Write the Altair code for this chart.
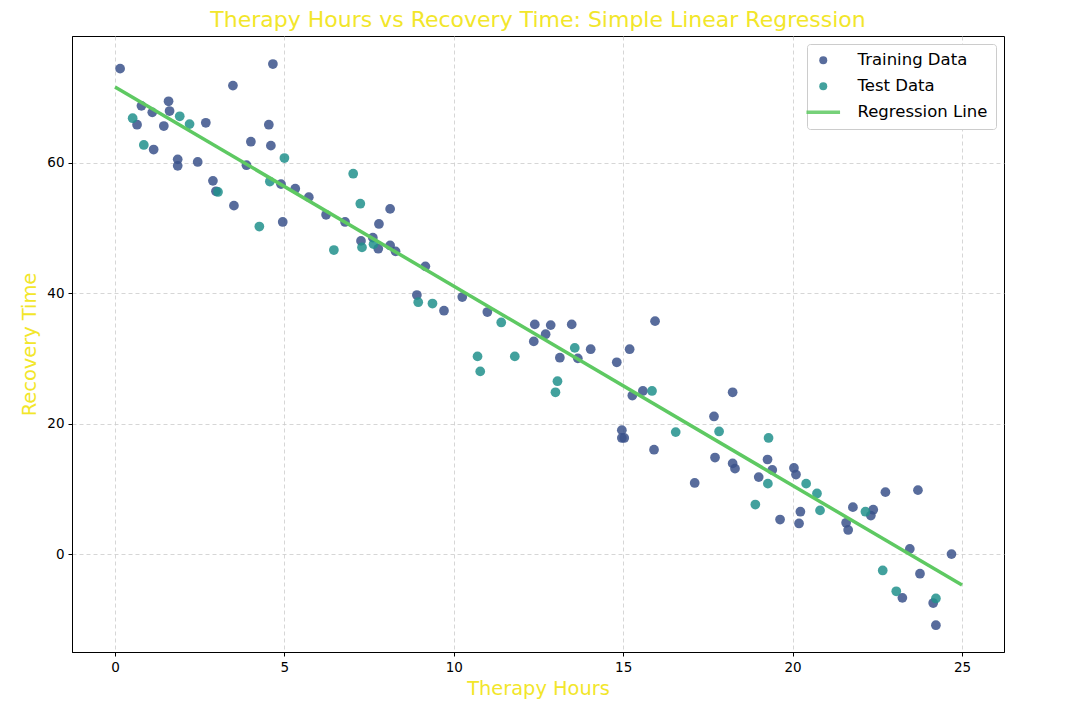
import altair as alt
import pandas as pd

train_x = [0.15, 0.65, 0.78, 1.10, 1.14, 1.44, 1.58, 1.61, 1.85, 1.85, 2.44, 2.68, 2.89, 2.98,
           3.48, 3.51, 3.88, 4.01, 4.54, 4.60, 4.66, 4.90, 4.95, 5.32, 5.72, 6.23, 6.79, 7.26,
           7.61, 7.77, 7.79, 8.12, 8.12, 8.28, 8.91, 9.16, 9.71, 10.25, 10.99, 12.36, 12.39,
           12.71, 12.86, 13.13, 13.48, 13.66, 14.04, 14.81, 14.96, 14.96, 15.03, 15.19, 15.27,
           15.58, 15.91, 15.94, 17.11, 17.68, 17.71, 18.23, 18.23, 18.30, 19.00, 19.26, 19.40,
           19.63, 20.04, 20.10, 20.19, 20.23, 21.58, 21.64, 21.78, 22.31, 22.38, 22.74, 23.24,
           23.46, 23.70, 23.76, 24.15, 24.23, 24.69]
train_y = [74.4, 65.8, 68.7, 67.7, 62.0, 65.6, 69.4, 67.9, 60.5, 59.5, 60.1, 66.1, 57.2, 55.6,
           71.8, 53.4, 59.6, 63.2, 65.8, 62.6, 75.1, 56.7, 50.9, 56.0, 54.7, 52.0, 50.9, 48.0,
           48.5, 46.8, 50.6, 52.9, 47.3, 46.4, 39.7, 44.1, 37.3, 39.4, 37.1, 32.6, 35.2,
           33.7, 35.1, 30.1, 35.2, 30.0, 31.4, 29.4, 19.0, 17.8, 17.8, 31.4, 24.3,
           25.0, 16.0, 35.7, 10.9, 21.1, 14.8, 24.8, 13.9, 13.1, 11.8, 14.5, 12.9,
           5.3, 13.2, 12.2, 4.7, 6.5, 4.8, 3.7, 7.2, 5.9, 6.8, 9.5, -6.7,
           0.8, 9.8, -3.0, -7.5, -10.9, 0.0]

test_x = [0.52, 0.85, 1.91, 2.20, 3.04, 4.26, 4.57, 5.00, 6.46, 7.03, 7.24, 7.29, 7.63, 8.95,
          9.37, 10.70, 10.78, 11.40, 11.80, 13.00, 13.06, 13.57, 15.85, 16.55, 17.83, 18.90,
          19.27, 19.29, 20.40, 20.72, 20.81, 22.15, 22.66, 23.06, 24.23]
test_y = [66.8, 62.7, 67.1, 65.9, 55.5, 50.2, 57.1, 60.7, 46.6, 58.3, 53.7, 47.0, 47.5, 38.6,
          38.4, 30.3, 28.0, 35.5, 30.3, 24.8, 26.5, 31.6, 25.0, 18.7, 18.8, 7.6,
          10.8, 17.8, 10.8, 9.3, 6.7, 6.5, -2.5, -5.7, -6.8]

line_x = [0.0, 25.0]
line_y = [71.6, -4.75]

series_names = ["Training Data", "Test Data", "Regression Line"]
series_colors = ["#3b528b", "#21918c", "#5ec962"]
title_color = "#f2e62a"

# legend glyphs: circles for the point series, a flat bar for the fitted line
line_glyph = "M-4.2,-0.45H4.2V0.45H-4.2Z"
series_shapes = ["circle", "circle", line_glyph]

train_df = pd.DataFrame({"x": train_x, "y": train_y, "series": series_names[0]})
test_df = pd.DataFrame({"x": test_x, "y": test_y, "series": series_names[1]})
line_df = pd.DataFrame({"x": line_x, "y": line_y, "series": series_names[2]})

legend = alt.Legend(
    title=None,
    orient="top-right",
    offset=8,
    labelFontSize=16.5,
    labelColor="black",
    labelFont="DejaVu Sans",
    strokeColor="#cccccc",
    fillColor="white",
    padding=8,
    cornerRadius=3,
    symbolSize=64,
    symbolStrokeWidth=0,
    rowPadding=9,
    labelOffset=26,
)

color = alt.Color(
    "series:N",
    scale=alt.Scale(domain=series_names, range=series_colors),
    legend=legend,
)
shape = alt.Shape(
    "series:N",
    scale=alt.Scale(domain=series_names, range=series_shapes),
    legend=legend,
)

xenc = alt.X(
    "x:Q",
    scale=alt.Scale(domain=[-1.27, 26.24], nice=False, zero=False),
    axis=alt.Axis(title="Therapy Hours", values=[0, 5, 10, 15, 20, 25]),
)
yenc = alt.Y(
    "y:Q",
    scale=alt.Scale(domain=[-15.0, 79.4], nice=False, zero=False),
    axis=alt.Axis(title="Recovery Time", values=[0, 20, 40, 60]),
)

train_layer = alt.Chart(train_df).mark_point(filled=True, size=95, opacity=0.85).encode(
    x=xenc, y=yenc, color=color, shape=shape)
test_layer = alt.Chart(test_df).mark_point(filled=True, size=95, opacity=0.85).encode(
    x=xenc, y=yenc, color=color, shape=shape)
line_layer = alt.Chart(line_df).mark_line(strokeWidth=3.5).encode(x=xenc, y=yenc, color=color)

chart = (
    alt.layer(train_layer, test_layer, line_layer)
    .properties(
        width=932,
        height=616,
        autosize=alt.AutoSizeParams(type="none"),
        padding={"left": 64, "top": 28, "right": 72, "bottom": 52},
        title=alt.TitleParams(
            "Therapy Hours vs Recovery Time: Simple Linear Regression",
            fontSize=22,
            font="DejaVu Sans",
            fontWeight="normal",
            color=title_color,
            anchor="middle",
            offset=4,
        ),
    )
    .configure(font="DejaVu Sans")
    .configure_view(stroke="black", strokeWidth=1)
    .configure_axis(
        grid=True,
        gridColor="#cccccc",
        gridDash=[4, 3],
        gridWidth=0.8,
        domainColor="black",
        domainWidth=1,
        tickColor="black",
        tickSize=4,
        labelFontSize=13.5,
        labelColor="black",
        labelFont="DejaVu Sans",
        labelPadding=4,
        titleFontSize=19.4,
        titleFontWeight="normal",
        titleColor=title_color,
        titleFont="DejaVu Sans",
    )
    .configure_axisX(titlePadding=6, labelAngle=0)
    .configure_axisY(titlePadding=7)
)

chart.save("out.html", embed_options={"renderer": "svg", "actions": False})
